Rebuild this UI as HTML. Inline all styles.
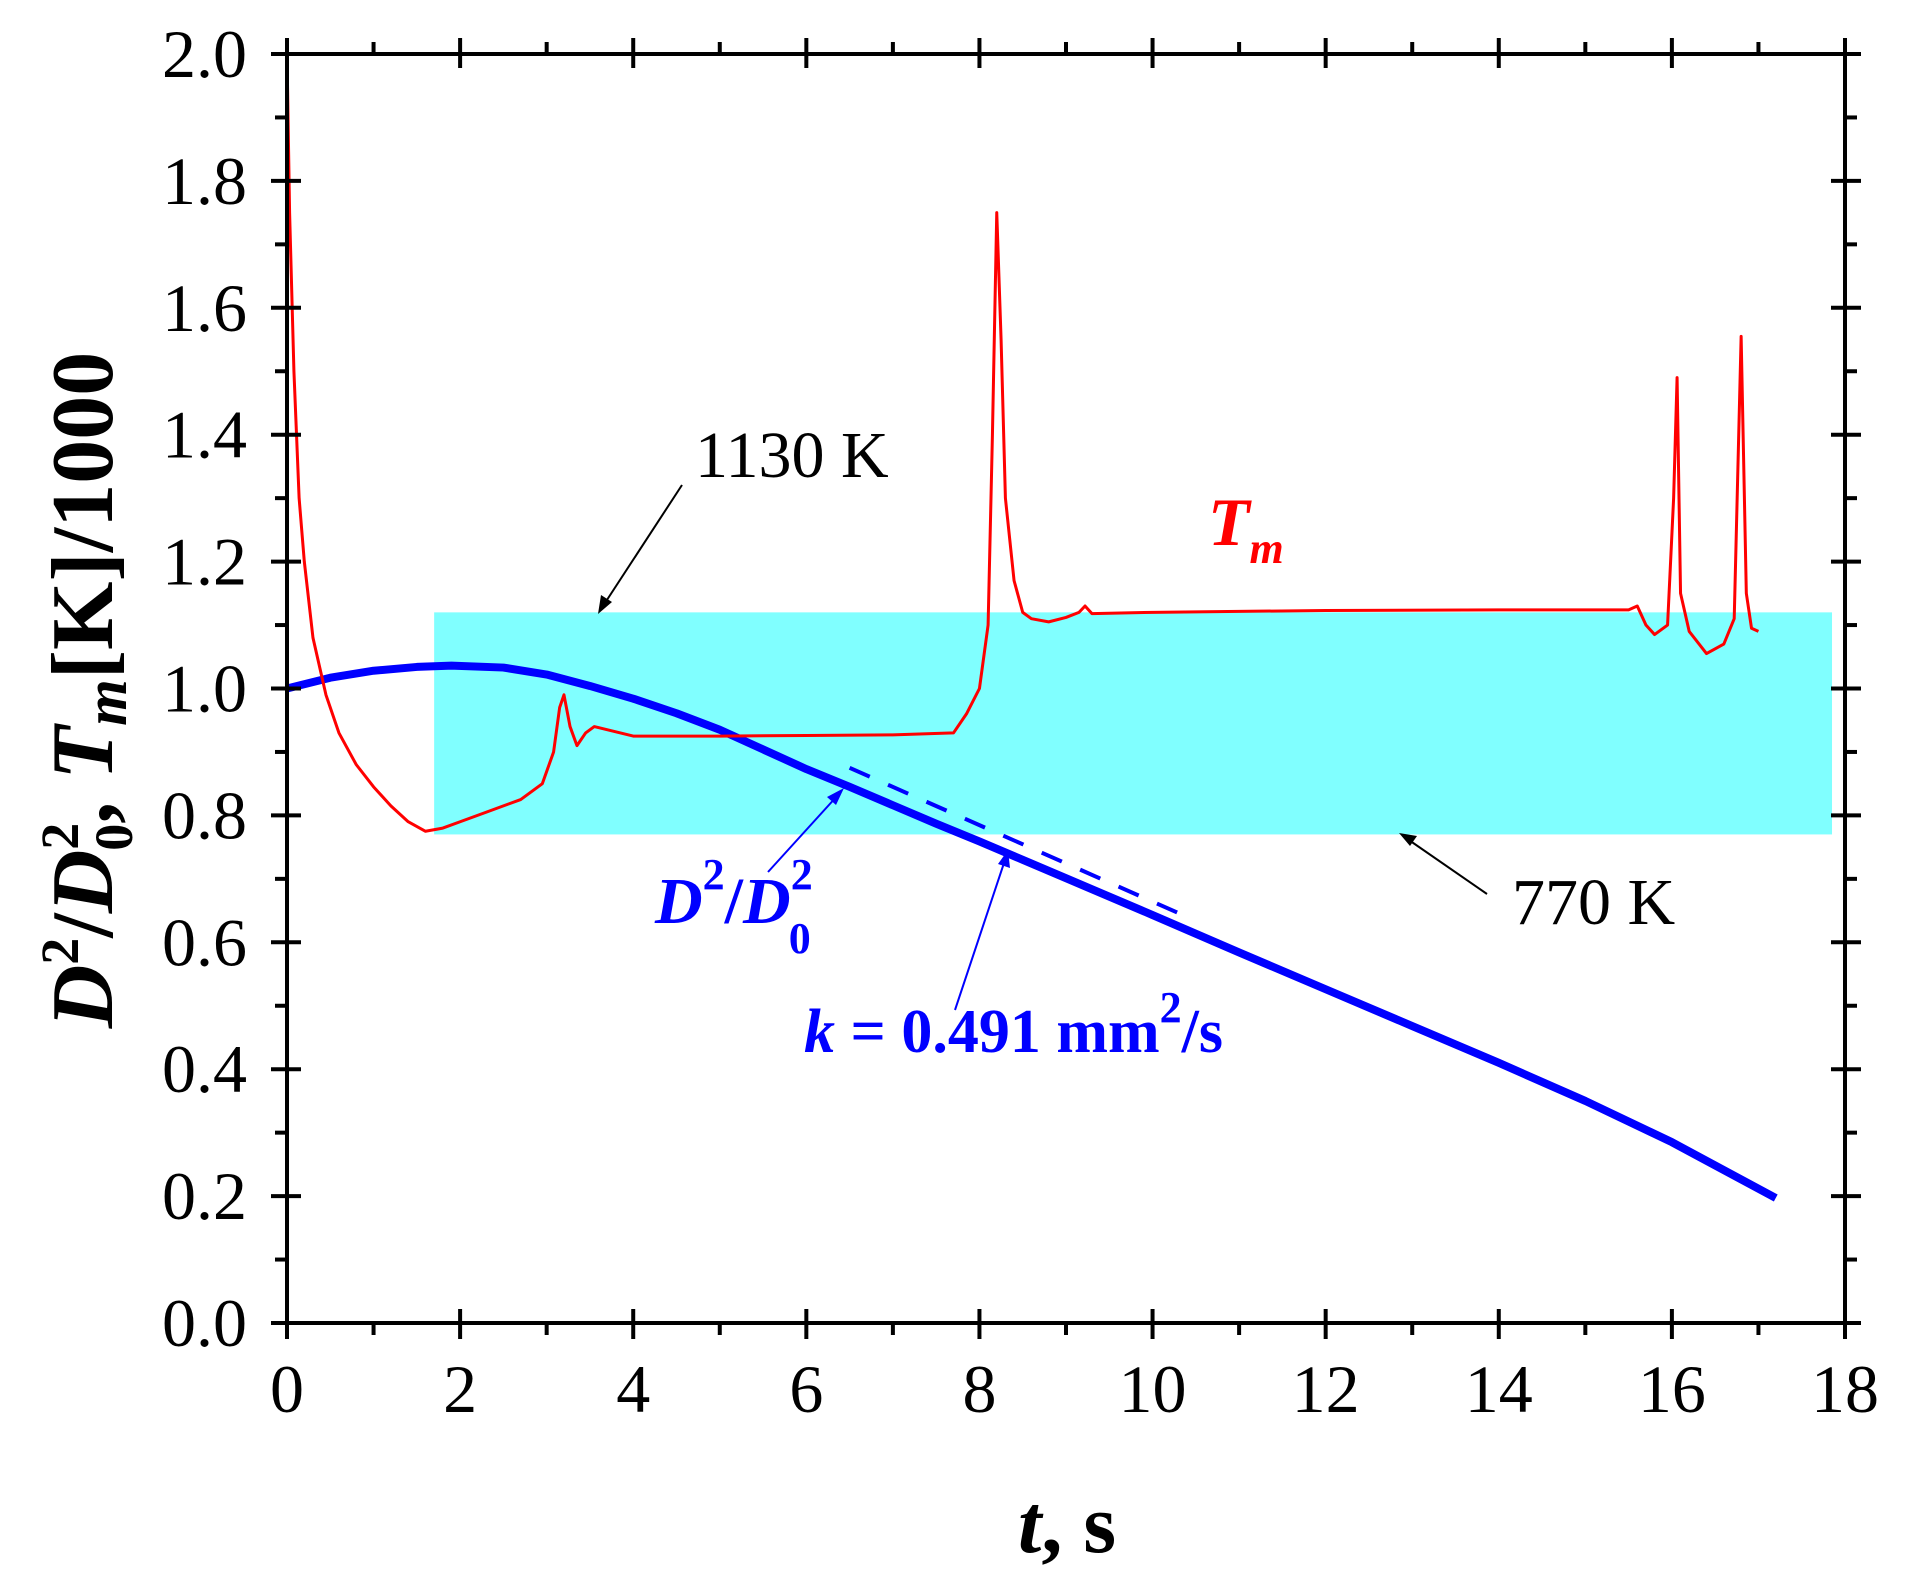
<!DOCTYPE html>
<html><head><meta charset="utf-8"><style>
html,body{margin:0;padding:0;background:#fff;}
svg{display:block;font-family:"Liberation Serif",serif;}
</style></head><body>
<svg id="chart" width="1908" height="1584" viewBox="0 0 1908 1584" xmlns="http://www.w3.org/2000/svg">
<g id="plot"></g>
<g id="axes"></g>
<g fill="#000">
 <text x="695" y="477" font-size="66">1130 K</text>
 <line x1="682" y1="485" x2="603" y2="606" stroke="#000" stroke-width="2"/>
 <polygon points="598,614 601,595 612,602" fill="#000"/>
 <text x="1512" y="924" font-size="66">770 K</text>
 <line x1="1487" y1="894" x2="1406" y2="838" stroke="#000" stroke-width="2"/>
 <polygon points="1399,833 1417,836 1410,846" fill="#000"/>
 <text x="1208" y="545" font-size="68" font-weight="bold" font-style="italic" fill="#f00">T<tspan font-size="44" dy="18">m</tspan></text>
 <text x="655" y="923" font-size="66" font-weight="bold" font-style="italic" fill="#00f">D<tspan font-size="44" dy="-34" font-style="normal">2</tspan><tspan dy="34" font-style="normal">/</tspan>D<tspan font-size="44" dy="-34" font-style="normal">2</tspan><tspan font-size="44" dx="-24" dy="64" font-style="normal">0</tspan></text>
 <line x1="768" y1="872" x2="838" y2="795" stroke="#00f" stroke-width="2"/>
 <polygon points="844,788 836,805 827,797" fill="#00f"/>
 <text x="804" y="1052" font-size="62" font-weight="bold" fill="#00f"><tspan font-style="italic">k</tspan> = 0.491 mm<tspan font-size="44" dy="-30">2</tspan><tspan dy="30">/s</tspan></text>
 <line x1="955" y1="1010" x2="1005" y2="860" stroke="#00f" stroke-width="2"/>
 <polygon points="1008,850 1010,868 998,864" fill="#00f"/>
</g>
<text x="1067" y="1552" font-size="84" font-weight="bold" text-anchor="middle"><tspan font-style="italic">t</tspan>, s</text>
<text transform="translate(112,690) rotate(-90)" font-size="88" font-weight="bold" text-anchor="middle"><tspan font-style="italic">D</tspan><tspan font-size="54" dy="-34">2</tspan><tspan dy="34">/</tspan><tspan font-style="italic">D</tspan><tspan font-size="54" dy="-34">2</tspan><tspan font-size="54" dx="-28" dy="54">0</tspan><tspan dy="-20">, </tspan><tspan font-style="italic">T</tspan><tspan font-style="italic" font-size="60" dy="14">m</tspan><tspan dy="-14">[K]/1000</tspan></text>
</svg>
<script>
const xTicks=[0,2,4,6,8,10,12,14,16,18];
const yTicks=[0.0,0.2,0.4,0.6,0.8,1.0,1.2,1.4,1.6,1.8,2.0];
const bandT=[1.7,17.85];
const bandY=[0.77,1.12];
const tmT=[0,0.03,0.08,0.14,0.2,0.3,0.45,0.6,0.8,1.0,1.2,1.4,1.6,1.8,2.0,2.3,2.7,2.95,3.08,3.15,3.2,3.27,3.35,3.45,3.55,4.0,5,6,7,7.7,7.85,8.0,8.1,8.15,8.2,8.25,8.3,8.4,8.5,8.6,8.8,9.0,9.15,9.22,9.3,10,12,14,15.5,15.6,15.7,15.8,15.95,16.02,16.06,16.1,16.2,16.4,16.6,16.72,16.8,16.86,16.92,17.0];
const tmV=[2.0,1.75,1.5,1.3,1.2,1.08,0.99,0.93,0.88,0.845,0.815,0.79,0.775,0.78,0.79,0.805,0.825,0.85,0.9,0.97,0.99,0.94,0.91,0.93,0.94,0.925,0.925,0.926,0.927,0.93,0.96,1.0,1.1,1.4,1.75,1.55,1.3,1.17,1.12,1.11,1.105,1.112,1.12,1.13,1.118,1.12,1.123,1.124,1.124,1.13,1.1,1.085,1.1,1.3,1.49,1.15,1.09,1.055,1.07,1.11,1.555,1.15,1.095,1.09];
const dT=[0,0.5,1.0,1.5,1.9,2.5,3.0,3.5,4.0,4.5,5.0,5.5,6.0,6.5,7.0,7.5,8.0,8.5,9,10,11,12,13,14,15,16,17.2];
const dV=[1.0,1.017,1.028,1.034,1.036,1.033,1.022,1.004,0.984,0.961,0.935,0.904,0.873,0.845,0.816,0.787,0.759,0.73,0.701,0.643,0.584,0.526,0.468,0.41,0.35,0.285,0.197];
const fitT=[6.5,10.4];
const fitV=[0.875,0.64];

const X0=287,X1=1845,Y0=1323,Y1=54;
const sx=t=>X0+(X1-X0)*t/18;
const sy=v=>Y0-(Y0-Y1)*v/2;
const NS="http://www.w3.org/2000/svg";
const plot=document.getElementById('plot'),axes=document.getElementById('axes');
function mk(tag,attrs,parent){const e=document.createElementNS(NS,tag);for(const k in attrs)e.setAttribute(k,attrs[k]);parent.appendChild(e);return e;}

const band=mk('rect',{x:sx(bandT[0]),y:sy(bandY[1]),width:sx(bandT[1])-sx(bandT[0]),height:sy(bandY[0])-sy(bandY[1]),fill:'#80ffff'},plot);



const fit=mk('line',{x1:sx(fitT[0]),y1:sy(fitV[0]),x2:sx(fitT[1]),y2:sy(fitV[1]),stroke:'#00f','stroke-width':4,'stroke-dasharray':'22,20'},plot);



const dl=mk('polyline',{points:dT.map((t,i)=>sx(t)+','+sy(dV[i])).join(' '),fill:'none',stroke:'#00f','stroke-width':8,'stroke-linejoin':'round'},plot);



const tl=mk('polyline',{points:tmT.map((t,i)=>sx(t)+','+sy(tmV[i])).join(' '),fill:'none',stroke:'#f00','stroke-width':3,'stroke-linejoin':'round'},plot);



const frame=mk('rect',{x:X0,y:Y1,width:X1-X0,height:Y0-Y1,fill:'none',stroke:'#000','stroke-width':4},axes);



xTicks.forEach((t,i)=>{
  const x=sx(t);
  mk('line',{x1:x,y1:Y0-14,x2:x,y2:Y0+16,stroke:'#000','stroke-width':4},axes);
  mk('line',{x1:x,y1:Y1-16,x2:x,y2:Y1+14,stroke:'#000','stroke-width':4},axes);
  if(i<xTicks.length-1){const xm=sx(t+1);
    mk('line',{x1:xm,y1:Y0,x2:xm,y2:Y0+12,stroke:'#000','stroke-width':4},axes);
    mk('line',{x1:xm,y1:Y1,x2:xm,y2:Y1-12,stroke:'#000','stroke-width':4},axes);}
  const lb=mk('text',{x:x,y:1412,'font-size':68,'text-anchor':'middle'},axes);
  lb.textContent=String(t);
  
  
});
yTicks.forEach((v,i)=>{
  const y=sy(v);
  mk('line',{x1:X0-16,y1:y,x2:X0+14,y2:y,stroke:'#000','stroke-width':4},axes);
  mk('line',{x1:X1-14,y1:y,x2:X1+16,y2:y,stroke:'#000','stroke-width':4},axes);
  if(i<yTicks.length-1){const ym=sy(v+0.1);
    mk('line',{x1:X0,y1:ym,x2:X0-12,y2:ym,stroke:'#000','stroke-width':4},axes);
    mk('line',{x1:X1,y1:ym,x2:X1+12,y2:ym,stroke:'#000','stroke-width':4},axes);}
  const lb=mk('text',{x:247,y:y+23,'font-size':68,'text-anchor':'end'},axes);
  lb.textContent=v.toFixed(1);
  
  
});
</script>
</body></html>
